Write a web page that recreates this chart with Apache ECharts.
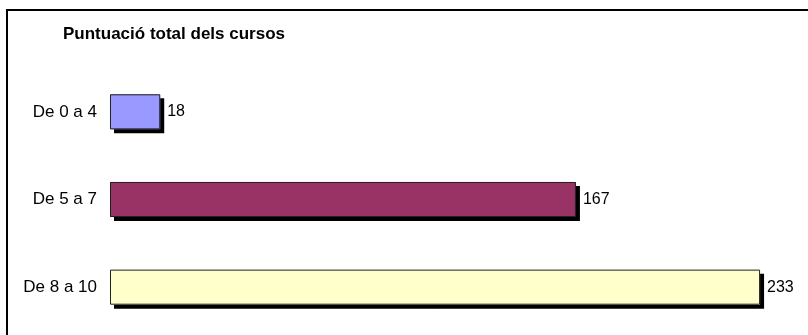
<!DOCTYPE html>
<html>
<head>
<meta charset="utf-8">
<script src="https://cdn.jsdelivr.net/npm/echarts@6/dist/echarts.min.js"></script>
<style>
  html, body { margin: 0; padding: 0; background: #fff; }
  #chart { width: 808px; height: 335px; }
</style>
</head>
<body>
<div id="chart"></div>
<script>
// dades del gràfic
const categories = ['De 0 a 4', 'De 5 a 7', 'De 8 a 10']
const values = [18, 167, 233]
const barColors = ['#9999ff', '#993366', '#ffffcc']

const font = 'Arial, "Liberation Sans", sans-serif'

const chart = echarts.init(document.getElementById('chart'))

chart.setOption({
    animation: false,
    title: {
        text: 'Puntuació total dels cursos',
        left: 58,
        top: 21,
        textStyle: { fontFamily: font, fontSize: 17, fontWeight: 'bold', color: '#000' }
    },
    // marc exterior
    graphic: [{
        type: 'rect',
        shape: { x: 7, y: 10, width: 900, height: 500 },
        style: { fill: 'none', stroke: '#000', lineWidth: 2 },
        silent: true
    }],
    grid: { left: 110, top: 68, width: 697.5, height: 263, containLabel: false },
    xAxis: {
        type: 'value',
        min: 0,
        max: 250,
        show: false
    },
    yAxis: {
        type: 'category',
        inverse: true,
        data: categories,
        axisLine: { show: false },
        axisTick: { show: false },
        splitLine: { show: false },
        axisLabel: { margin: 13, fontFamily: font, fontSize: 17, color: '#000' }
    },
    series: [{
        // farciment amb ombra
        type: 'bar',
        barCategoryGap: '60%',
        data: values.map((v, i) => ({
            value: v,
            itemStyle: { color: barColors[i] }
        })),
        itemStyle: {
            shadowColor: '#000',
            shadowBlur: 0,
            shadowOffsetX: 4,
            shadowOffsetY: 4
        }
    }, {
        // vora i etiquetes
        type: 'bar',
        barGap: '-100%',
        barCategoryGap: '60%',
        data: values,
        itemStyle: {
            color: 'rgba(0,0,0,0)',
            borderColor: '#222',
            borderWidth: 1
        },
        label: {
            show: true,
            position: 'right',
            distance: 7,
            fontFamily: font,
            fontSize: 16,
            color: '#000'
        }
    }]
})
</script>
</body>
</html>
